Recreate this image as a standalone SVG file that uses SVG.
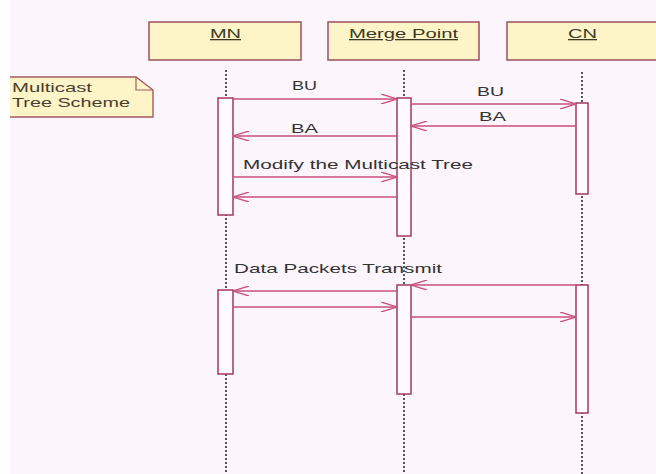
<svg xmlns="http://www.w3.org/2000/svg" width="656" height="474" viewBox="0 0 656 474">
<defs>
<style>
.hdr{fill:#fdf4c8;stroke:#a35a66;stroke-width:1.6}
.htxt{font-family:"Liberation Sans",Arial,sans-serif;font-size:13px;fill:#3a3a26;text-decoration:underline}
.life{stroke:#555;stroke-width:2;stroke-dasharray:2 2;fill:none}
.act{fill:#fffafe;stroke:#a33a5c;stroke-width:1.5}
.msg{stroke:#c8507a;stroke-width:1.3;fill:none;marker-end:url(#arr)}
.lbl{font-family:"Liberation Sans",Arial,sans-serif;font-size:13px;fill:#333}
.note{fill:#fdf4c8;stroke:#a35a66;stroke-width:1.4}
.ntxt{font-family:"Liberation Sans",Arial,sans-serif;font-size:13px;fill:#4a4030}
</style>
<marker id="arr" viewBox="0 0 16 10" refX="16" refY="5" markerWidth="16" markerHeight="10" markerUnits="userSpaceOnUse" orient="auto">
<path d="M0,0 L16,5 L0,10" fill="none" stroke="#c8507a" stroke-width="1.3"/>
</marker>
</defs>
<rect x="0" y="0" width="656" height="474" fill="#fcf5fb"/>
<rect x="0" y="0" width="10" height="474" fill="#ffffff"/>

<g id="note">
<path class="note" d="M10,77 L136,77 L153,90 L153,117 L10,117"/>
<path d="M136,77 L136,90 L153,90" fill="none" stroke="#a35a66" stroke-width="1.2"/>
<text class="ntxt" x="12" y="92" textLength="80" lengthAdjust="spacingAndGlyphs">Multicast</text>
<text class="ntxt" x="12" y="107" textLength="118" lengthAdjust="spacingAndGlyphs">Tree Scheme</text>
</g>

<g id="MN">
<rect class="hdr" x="149" y="22" width="152" height="38"/>
<text class="htxt" x="210" y="38" textLength="31" lengthAdjust="spacingAndGlyphs">MN</text>
<line class="life" x1="226" y1="70" x2="226" y2="474"/>
<rect class="act" x="218" y="98" width="15" height="117"/>
<rect class="act" x="218" y="290" width="15" height="84"/>
</g>

<g id="MergePoint">
<rect class="hdr" x="328" y="22" width="151" height="38"/>
<text class="htxt" x="349" y="38" textLength="109" lengthAdjust="spacingAndGlyphs">Merge Point</text>
<line class="life" x1="404" y1="70" x2="404" y2="474"/>
<rect class="act" x="397" y="98" width="14" height="138"/>
<rect class="act" x="397" y="285" width="14" height="109"/>
</g>

<g id="CN">
<rect class="hdr" x="507" y="22" width="152" height="38"/>
<text class="htxt" x="568" y="38" textLength="29" lengthAdjust="spacingAndGlyphs">CN</text>
<line class="life" x1="582" y1="72" x2="582" y2="474"/>
<rect class="act" x="576" y="103" width="12" height="91"/>
<rect class="act" x="576" y="285" width="12" height="128"/>
</g>

<g id="connectors">
<line class="msg" x1="233" y1="99" x2="397" y2="99"/>
<text class="lbl" x="292" y="90" textLength="25" lengthAdjust="spacingAndGlyphs">BU</text>
<line class="msg" x1="411" y1="104" x2="576" y2="104"/>
<text class="lbl" x="477" y="96" textLength="27" lengthAdjust="spacingAndGlyphs">BU</text>
<line class="msg" x1="576" y1="126" x2="411" y2="126"/>
<text class="lbl" x="479" y="121" textLength="27" lengthAdjust="spacingAndGlyphs">BA</text>
<line class="msg" x1="397" y1="136" x2="233" y2="136"/>
<text class="lbl" x="291" y="133" textLength="27" lengthAdjust="spacingAndGlyphs">BA</text>
<line class="msg" x1="233" y1="177" x2="397" y2="177"/>
<text class="lbl" x="243" y="169" textLength="230" lengthAdjust="spacingAndGlyphs">Modify the Multicast Tree</text>
<line class="msg" x1="397" y1="197" x2="233" y2="197"/>
<line class="msg" x1="576" y1="285" x2="411" y2="285"/>
<line class="msg" x1="397" y1="291" x2="233" y2="291"/>
<text class="lbl" x="234" y="273" textLength="208" lengthAdjust="spacingAndGlyphs">Data Packets Transmit</text>
<line class="msg" x1="233" y1="307" x2="397" y2="307"/>
<line class="msg" x1="411" y1="317" x2="576" y2="317"/>
</g>
</svg>
